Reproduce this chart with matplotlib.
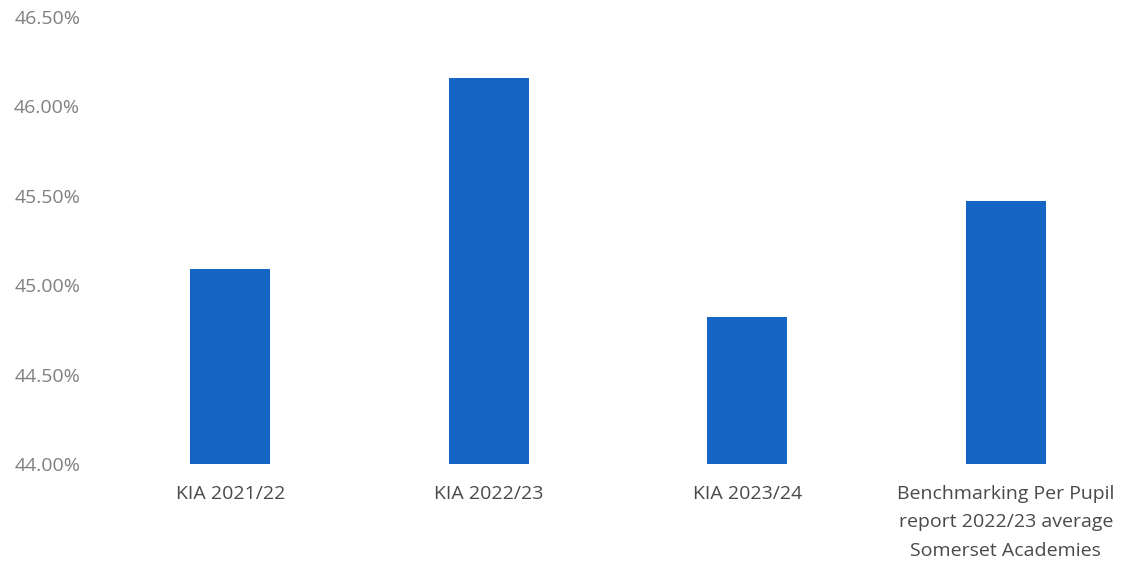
import matplotlib
matplotlib.use("Agg")
import matplotlib.pyplot as plt
from matplotlib.ticker import FuncFormatter

categories = [
    "KIA 2021/22",
    "KIA 2022/23",
    "KIA 2023/24",
    "Benchmarking Per Pupil\nreport 2022/23 average\nSomerset Academies",
]
values = [45.09, 46.16, 44.82, 45.47]
y_ticks = [44.0, 44.5, 45.0, 45.5, 46.0, 46.5]

plt.rcParams["font.family"] = ["Open Sans", "DejaVu Sans"]

fig = plt.figure(figsize=(11.25, 5.62), dpi=100)
ax = fig.add_axes([0.0898, 0.1744, 0.9102, 0.7954])

x = range(len(categories))
ax.bar(x, values, width=0.31, color="#1565c4", bottom=0)
ax.set_ylim(44.0, 46.5)
ax.set_xlim(-0.5, 3.461)
ax.set_yticks(y_ticks)
ax.yaxis.set_major_formatter(FuncFormatter(lambda v, _: f"{v:.2f}%"))
ax.set_xticks(list(x))
ax.set_xticklabels(categories)

for side in ["top", "right", "left", "bottom"]:
    ax.spines[side].set_visible(False)
ax.tick_params(axis="y", length=0, pad=15, labelsize=14, labelcolor="#808080")
ax.tick_params(axis="x", length=0, pad=15, labelsize=14, labelcolor="#4a4a4a")
for lab in ax.get_xticklabels():
    lab.set_linespacing(1.75)
    lab.set_verticalalignment("top")

fig.savefig("out.png", dpi=100)
